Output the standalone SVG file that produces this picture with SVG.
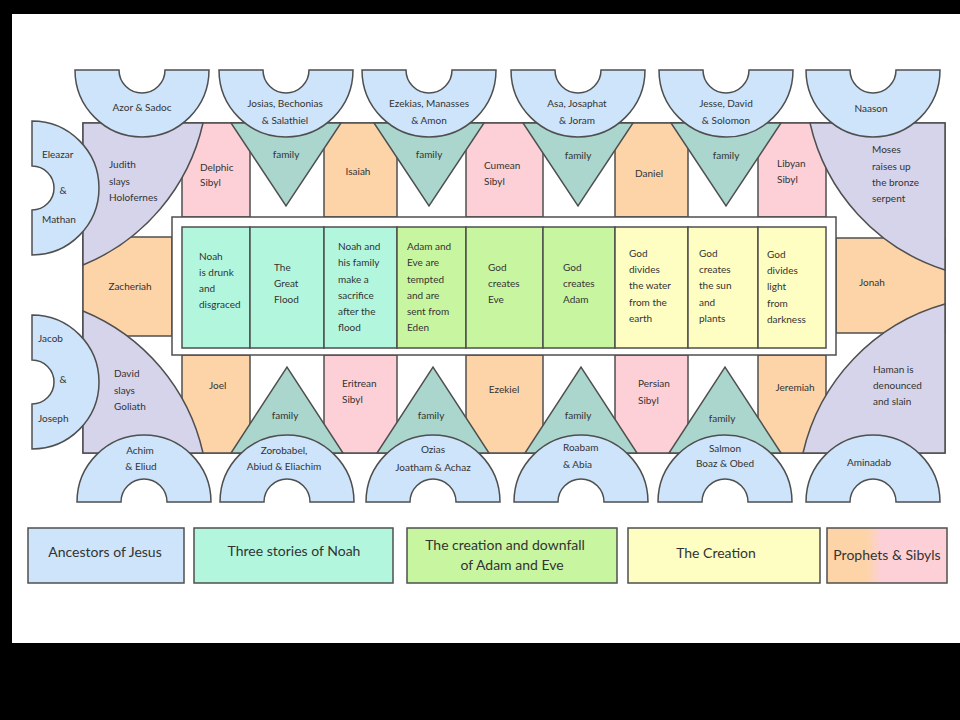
<svg xmlns="http://www.w3.org/2000/svg" width="960" height="720" viewBox="0 0 960 720">
<defs>
<linearGradient id="ps" x1="0" y1="0" x2="1" y2="0">
<stop offset="0.33" stop-color="#fdd4a8"/><stop offset="0.45" stop-color="#fcd0d6"/>
</linearGradient>
<style>
.s{stroke:#4f4f4f;stroke-width:1.5;stroke-linejoin:miter}
.blue{fill:#cde4fa}.lav{fill:#d6d4ea}.peach{fill:#fdd4a8}.pink{fill:#fcd0d6}
.teal{fill:#abd6cd}.mint{fill:#b2f7dd}.green{fill:#c8f6a0}.yel{fill:#fefec2}.wh{fill:#ffffff}
text{font-family:Lato,"Noto Sans","DejaVu Sans",sans-serif;font-size:10px;fill:#333333}
.c{text-anchor:middle}
.lg{font-size:14px}
</style>
</defs>
<rect x="0" y="0" width="960" height="720" fill="#000000"/>
<rect x="12" y="14" width="948" height="629" fill="#ffffff"/>

<g id="body"><rect class="s wh" x="83" y="123" width="862" height="330"/></g>

<g id="delphic"><rect class="s pink" x="182" y="123" width="68" height="94"/><text x="200" y="171">Delphic</text><text x="200" y="186">Sibyl</text></g>
<g id="isaiah"><rect class="s peach" x="324" y="123" width="73" height="94"/><text class="c" x="358" y="175">Isaiah</text></g>
<g id="cumean"><rect class="s pink" x="466" y="123" width="77" height="94"/><text x="484" y="169">Cumean</text><text x="484" y="185">Sibyl</text></g>
<g id="daniel"><rect class="s peach" x="615" y="123" width="73" height="94"/><text x="635" y="177">Daniel</text></g>
<g id="libyan"><rect class="s pink" x="758" y="123" width="68" height="94"/><text x="777" y="167">Libyan</text><text x="777" y="183">Sibyl</text></g>

<g id="joel"><rect class="s peach" x="182" y="355" width="68" height="98"/><text x="209" y="389">Joel</text></g>
<g id="eritrean"><rect class="s pink" x="324" y="355" width="73" height="98"/><text x="342" y="387">Eritrean</text><text x="342" y="403">Sibyl</text></g>
<g id="ezekiel"><rect class="s peach" x="466" y="355" width="77" height="98"/><text class="c" x="504" y="393">Ezekiel</text></g>
<g id="persian"><rect class="s pink" x="615" y="355" width="73" height="98"/><text x="638" y="387">Persian</text><text x="638" y="404">Sibyl</text></g>
<g id="jeremiah"><rect class="s peach" x="758" y="355" width="68" height="98"/><text class="c" x="795" y="391">Jeremiah</text></g>

<g id="zacheriah"><rect class="s peach" x="83" y="237" width="89" height="99"/><text class="c" x="130" y="290">Zacheriah</text></g>
<g id="jonah"><rect class="s peach" x="836" y="238" width="109" height="95"/><text class="c" x="872" y="286">Jonah</text></g>

<g id="judith"><path class="s lav" d="M83,123 H203 A201,201 0 0 1 83,265 Z"/><text x="109" y="168">Judith</text><text x="109" y="185">slays</text><text x="109" y="201">Holofernes</text></g>
<g id="david"><path class="s lav" d="M83,453 H203 A201,201 0 0 0 83,311 Z"/><text x="114" y="377">David</text><text x="114" y="394">slays</text><text x="114" y="410">Goliath</text></g>
<g id="moses"><path class="s lav" d="M945,123 H810 A201,201 0 0 0 945,270 Z"/><text x="872" y="153">Moses</text><text x="872" y="170">raises up</text><text x="872" y="186">the bronze</text><text x="872" y="202">serpent</text></g>
<g id="haman"><path class="s lav" d="M945,453 H803 A201,201 0 0 1 945,304 Z"/><text x="873" y="373">Haman is</text><text x="873" y="389">denounced</text><text x="873" y="405">and slain</text></g>

<g id="family-t1"><polygon class="s teal" points="231,123 341,123 286,206"/><text class="c" x="286" y="158">family</text></g>
<g id="family-t2"><polygon class="s teal" points="374,123 484,123 429,206"/><text class="c" x="429" y="158">family</text></g>
<g id="family-t3"><polygon class="s teal" points="523,123 633,123 578,206"/><text class="c" x="578" y="159">family</text></g>
<g id="family-t4"><polygon class="s teal" points="671,123 781,123 726,206"/><text class="c" x="726" y="159">family</text></g>
<g id="family-b1"><polygon class="s teal" points="231,453 343,453 287,367"/><text class="c" x="285" y="419">family</text></g>
<g id="family-b2"><polygon class="s teal" points="377,453 489,453 433,367"/><text class="c" x="431" y="419">family</text></g>
<g id="family-b3"><polygon class="s teal" points="525,453 637,453 581,367"/><text class="c" x="578" y="419">family</text></g>
<g id="family-b4"><polygon class="s teal" points="669,453 781,453 725,367"/><text class="c" x="722" y="422">family</text></g>

<g id="azor"><path class="s blue" d="M75,70 H119 A23,23 0 0 0 165,70 H209 A67,67 0 0 1 75,70 Z"/><text class="c" x="142" y="111">Azor &amp; Sadoc</text></g>
<g id="josias"><path class="s blue" d="M219,70 H263 A23,23 0 0 0 309,70 H353 A67,67 0 0 1 219,70 Z"/><text class="c" x="285" y="107">Josias, Bechonias</text><text class="c" x="285" y="124">&amp; Salathiel</text></g>
<g id="ezekias"><path class="s blue" d="M362,70 H406 A23,23 0 0 0 452,70 H496 A67,67 0 0 1 362,70 Z"/><text class="c" x="429" y="107">Ezekias, Manasses</text><text class="c" x="429" y="124">&amp; Amon</text></g>
<g id="asa"><path class="s blue" d="M511,70 H555 A23,23 0 0 0 601,70 H645 A67,67 0 0 1 511,70 Z"/><text class="c" x="577" y="107">Asa, Josaphat</text><text class="c" x="577" y="124">&amp; Joram</text></g>
<g id="jesse"><path class="s blue" d="M659,70 H703 A23,23 0 0 0 749,70 H793 A67,67 0 0 1 659,70 Z"/><text class="c" x="726" y="107">Jesse, David</text><text class="c" x="726" y="124">&amp; Solomon</text></g>
<g id="naason"><path class="s blue" d="M806,70 H850 A23,23 0 0 0 896,70 H940 A67,67 0 0 1 806,70 Z"/><text class="c" x="871" y="112">Naason</text></g>

<g id="achim"><path class="s blue" d="M77,502 A67,67 0 0 1 211,502 H167 A23,23 0 0 0 121,502 Z"/><text class="c" x="140" y="454">Achim</text><text class="c" x="141" y="470">&amp; Eliud</text></g>
<g id="zorobabel"><path class="s blue" d="M220,502 A67,67 0 0 1 354,502 H310 A23,23 0 0 0 264,502 Z"/><text class="c" x="284" y="454">Zorobabel,</text><text class="c" x="284" y="470">Abiud &amp; Eliachim</text></g>
<g id="ozias"><path class="s blue" d="M366,502 A67,67 0 0 1 500,502 H456 A23,23 0 0 0 410,502 Z"/><text class="c" x="433" y="453">Ozias</text><text class="c" x="433" y="471">Joatham &amp; Achaz</text></g>
<g id="roabam"><path class="s blue" d="M514,502 A67,67 0 0 1 648,502 H604 A23,23 0 0 0 558,502 Z"/><text x="563" y="451">Roabam</text><text x="563" y="468">&amp; Abia</text></g>
<g id="salmon"><path class="s blue" d="M658,502 A67,67 0 0 1 792,502 H748 A23,23 0 0 0 702,502 Z"/><text class="c" x="725" y="452">Salmon</text><text class="c" x="725" y="467">Boaz &amp; Obed</text></g>
<g id="aminadab"><path class="s blue" d="M806,502 A67,67 0 0 1 940,502 H896 A23,23 0 0 0 850,502 Z"/><text class="c" x="869" y="466">Aminadab</text></g>

<g id="eleazar"><path class="s blue" d="M32,121 A67,67 0 0 1 32,255 V210 A22,22 0 0 0 32,166 Z"/><text x="42" y="158">Eleazar</text><text class="c" x="63" y="194">&amp;</text><text x="42" y="223">Mathan</text></g>
<g id="jacob"><path class="s blue" d="M32,315 A67,67 0 0 1 32,449 V404 A22,22 0 0 0 32,360 Z"/><text x="38" y="342">Jacob</text><text class="c" x="63" y="383">&amp;</text><text x="38" y="422">Joseph</text></g>

<g id="frame"><rect class="s wh" x="172" y="217" width="664" height="138"/></g>
<g id="p1"><rect class="s mint" x="182" y="227" width="68" height="121"/><text x="199" y="260">Noah</text><text x="199" y="276">is drunk</text><text x="199" y="292">and</text><text x="199" y="308">disgraced</text></g>
<g id="p2"><rect class="s mint" x="250" y="227" width="74" height="121"/><text x="274" y="271">The</text><text x="274" y="287">Great</text><text x="274" y="303">Flood</text></g>
<g id="p3"><rect class="s mint" x="324" y="227" width="73" height="121"/><text x="338" y="250">Noah and</text><text x="338" y="266">his family</text><text x="338" y="283">make a</text><text x="338" y="299">sacrifice</text><text x="338" y="315">after the</text><text x="338" y="331">flood</text></g>
<g id="p4"><rect class="s green" x="397" y="227" width="69" height="121"/><text x="407" y="250">Adam and</text><text x="407" y="266">Eve are</text><text x="407" y="283">tempted</text><text x="407" y="299">and are</text><text x="407" y="315">sent from</text><text x="407" y="331">Eden</text></g>
<g id="p5"><rect class="s green" x="466" y="227" width="77" height="121"/><text x="488" y="271">God</text><text x="488" y="287">creates</text><text x="488" y="303">Eve</text></g>
<g id="p6"><rect class="s green" x="543" y="227" width="72" height="121"/><text x="563" y="271">God</text><text x="563" y="287">creates</text><text x="563" y="303">Adam</text></g>
<g id="p7"><rect class="s yel" x="615" y="227" width="73" height="121"/><text x="629" y="257">God</text><text x="629" y="273">divides</text><text x="629" y="289">the water</text><text x="629" y="306">from the</text><text x="629" y="322">earth</text></g>
<g id="p8"><rect class="s yel" x="688" y="227" width="70" height="121"/><text x="699" y="257">God</text><text x="699" y="273">creates</text><text x="699" y="289">the sun</text><text x="699" y="306">and</text><text x="699" y="322">plants</text></g>
<g id="p9"><rect class="s yel" x="758" y="227" width="68" height="121"/><text x="767" y="258">God</text><text x="767" y="274">divides</text><text x="767" y="290">light</text><text x="767" y="307">from</text><text x="767" y="323">darkness</text></g>

<g id="legend-ancestors"><rect class="s blue" x="28" y="528" width="156" height="55"/><text class="c lg" x="105" y="557">Ancestors of Jesus</text></g>
<g id="legend-noah"><rect class="s mint" x="194" y="528" width="199" height="55"/><text class="c lg" x="294" y="556">Three stories of Noah</text></g>
<g id="legend-adam"><rect class="s green" x="407" y="528" width="210" height="55"/><text class="c lg" x="505" y="550">The creation and downfall</text><text class="c lg" x="512" y="570">of Adam and Eve</text></g>
<g id="legend-creation"><rect class="s yel" x="628" y="528" width="192" height="55"/><text class="c lg" x="716" y="558">The Creation</text></g>
<g id="legend-prophets"><rect class="s" fill="url(#ps)" x="827" y="528" width="120" height="55"/><text class="c lg" x="887" y="560">Prophets &amp; Sibyls</text></g>
</svg>
